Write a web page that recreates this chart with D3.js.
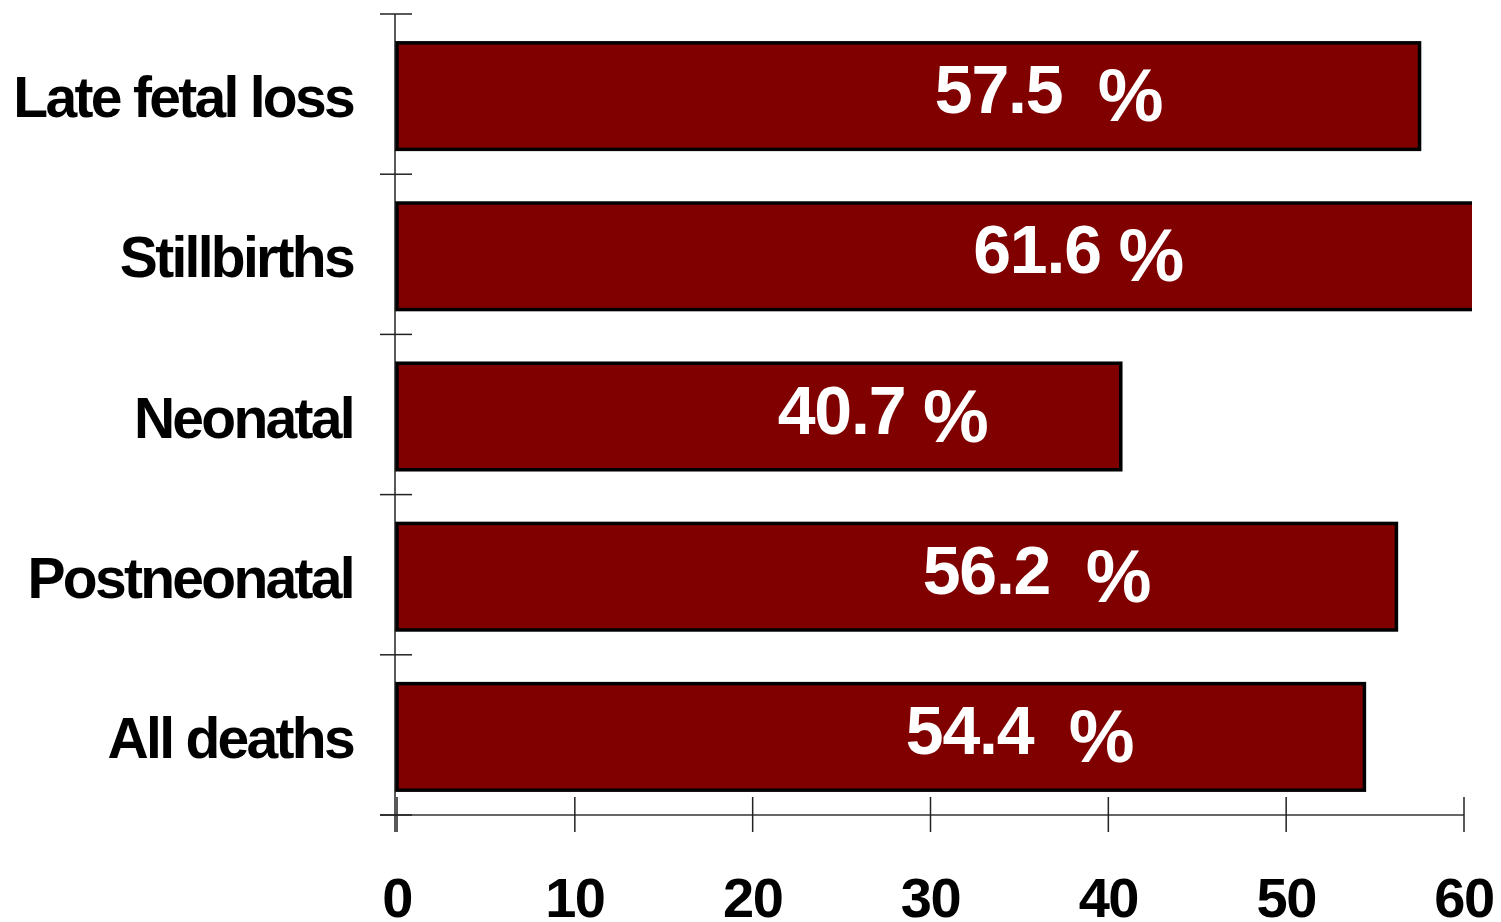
<!DOCTYPE html>
<html>
<head>
<meta charset="utf-8">
<script src="https://cdn.jsdelivr.net/npm/d3@7"></script>
<style>
  html, body { margin: 0; padding: 0; background: #fff; }
  svg text { font-family: "Liberation Sans", Arial, sans-serif; font-weight: bold; }
</style>
</head>
<body>
<svg id="chart" width="1501" height="922"></svg>
<script>
// chart data
const categories = ['Late fetal loss', 'Stillbirths', 'Neonatal', 'Postneonatal', 'All deaths'];
const values     = [57.5, 61.6, 40.7, 56.2, 54.4];
const valueLabels = ['57.5  %', '61.6 %', '40.7 %', '56.2  %', '54.4  %'];
const xTicks     = [0, 10, 20, 30, 40, 50, 60];

const svg = d3.select('#chart');

const x = d3.scaleLinear().domain([0, 60]).range([397, 1464]);
const y = d3.scaleBand().domain(categories).range([16, 817]).paddingInner(0.335).paddingOuter(0.1675);

// clip the plot at the right edge (stillbirths bar runs past 60)
svg.append('defs').append('clipPath').attr('id', 'plotClip')
  .append('rect').attr('x', 0).attr('y', 0).attr('width', 1472).attr('height', 922);

// axes lines
svg.append('line')
  .attr('x1', 395).attr('x2', 395).attr('y1', 14).attr('y2', 832)
  .attr('stroke', '#222').attr('stroke-width', 1.5);
svg.append('line')
  .attr('x1', 380).attr('x2', x(60)).attr('y1', 815).attr('y2', 815)
  .attr('stroke', '#333').attr('stroke-width', 1.5);

// category ticks (band boundaries)
const bounds = d3.range(categories.length + 1).map(i => 14 + i * (801 / categories.length));
svg.selectAll('.ytick').data(bounds).join('line')
  .attr('class', 'ytick')
  .attr('x1', 380).attr('x2', 412)
  .attr('y1', d => d).attr('y2', d => d)
  .attr('stroke', '#222').attr('stroke-width', 1.5);

// x ticks
svg.selectAll('.xtick').data(xTicks).join('line')
  .attr('class', 'xtick')
  .attr('x1', d => x(d)).attr('x2', d => x(d))
  .attr('y1', 797).attr('y2', 832)
  .attr('stroke', '#222').attr('stroke-width', 1.5);

svg.selectAll('.xlabel').data(xTicks).join('text')
  .attr('class', 'xlabel')
  .attr('x', d => x(d))
  .attr('y', 917)
  .attr('text-anchor', 'middle')
  .attr('font-size', 56)
  .attr('letter-spacing', -1.5)
  .attr('fill', '#000')
  .text(d => d);

// bars
const rows = categories.map((c, i) => ({ cat: c, v: values[i], label: valueLabels[i] }));

svg.append('g').attr('clip-path', 'url(#plotClip)')
  .selectAll('rect').data(rows).join('rect')
  .attr('x', x(0))
  .attr('y', d => y(d.cat))
  .attr('width', d => x(d.v) - x(0))
  .attr('height', y.bandwidth())
  .attr('fill', '#800000')
  .attr('stroke', '#000')
  .attr('stroke-width', 3.5);

// value labels inside bars (number, then a slightly bigger, lower % sign)
const vlabels = svg.selectAll('.vlabel').data(rows).join('text')
  .attr('class', 'vlabel')
  .attr('x', d => x(d.v * 0.526))
  .attr('y', d => y(d.cat) + y.bandwidth() / 2 + 17)
  .attr('font-size', 68)
  .attr('letter-spacing', -1.2)
  .attr('fill', '#fff')
  .style('white-space', 'pre');

vlabels.append('tspan')
  .text(d => d.label.slice(0, d.label.lastIndexOf('%')));
vlabels.append('tspan')
  .attr('dy', 8)
  .attr('font-size', 74)
  .text('%');

// category labels
svg.selectAll('.clabel').data(rows).join('text')
  .attr('class', 'clabel')
  .attr('x', 353)
  .attr('y', d => y(d.cat) + y.bandwidth() / 2 + 21)
  .attr('text-anchor', 'end')
  .attr('font-size', 57)
  .attr('letter-spacing', -2.7)
  .attr('fill', '#000')
  .text(d => d.cat);
</script>
</body>
</html>
